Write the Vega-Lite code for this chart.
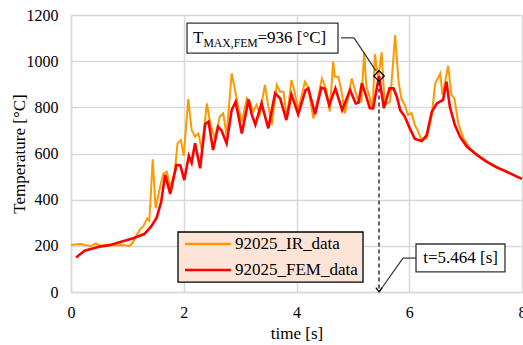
{
  "$schema": "https://vega.github.io/schema/vega-lite/v6.json",
  "width": 451,
  "height": 277,
  "autosize": {"type": "none"},
  "padding": {"left": 71, "top": 15, "right": 1, "bottom": 53},
  "background": "white",
  "config": {"font": "Liberation Serif", "view": {"stroke": null}, "axis": {"labelFont": "Liberation Serif", "titleFont": "Liberation Serif"}},
  "datasets": {
    "ir": [
      {"t":0,"v":204},{"t":0.1,"v":207},{"t":0.18,"v":208},{"t":0.25,"v":203},{"t":0.35,"v":199},{"t":0.44,"v":211},{"t":0.53,"v":200},{"t":0.62,"v":205},{"t":0.71,"v":204},{"t":0.8,"v":202},{"t":0.89,"v":204},{"t":0.96,"v":203},{"t":1.03,"v":199},{"t":1.09,"v":211},{"t":1.18,"v":254},{"t":1.24,"v":276},{"t":1.28,"v":283},{"t":1.35,"v":319},{"t":1.39,"v":309},{"t":1.45,"v":575},{"t":1.5,"v":363},{"t":1.58,"v":456},{"t":1.64,"v":514},{"t":1.7,"v":521},{"t":1.76,"v":456},{"t":1.84,"v":521},{"t":1.89,"v":645},{"t":1.95,"v":658},{"t":2.0,"v":590},{"t":2.08,"v":836},{"t":2.14,"v":702},{"t":2.2,"v":673},{"t":2.26,"v":687},{"t":2.32,"v":615},{"t":2.41,"v":817},{"t":2.47,"v":731},{"t":2.55,"v":666},{"t":2.64,"v":760},{"t":2.7,"v":774},{"t":2.76,"v":680},{"t":2.85,"v":947},{"t":2.91,"v":875},{"t":2.97,"v":796},{"t":3.03,"v":738},{"t":3.12,"v":839},{"t":3.17,"v":824},{"t":3.23,"v":781},{"t":3.29,"v":810},{"t":3.35,"v":774},{"t":3.44,"v":897},{"t":3.5,"v":803},{"t":3.56,"v":723},{"t":3.65,"v":897},{"t":3.71,"v":868},{"t":3.77,"v":868},{"t":3.83,"v":752},{"t":3.91,"v":918},{"t":3.96,"v":875},{"t":4.03,"v":788},{"t":4.15,"v":911},{"t":4.2,"v":890},{"t":4.3,"v":752},{"t":4.38,"v":840},{"t":4.45,"v":925},{"t":4.53,"v":875},{"t":4.59,"v":781},{"t":4.65,"v":998},{"t":4.68,"v":933},{"t":4.74,"v":933},{"t":4.8,"v":868},{"t":4.86,"v":774},{"t":4.98,"v":925},{"t":5.02,"v":889},{"t":5.1,"v":824},{"t":5.15,"v":824},{"t":5.2,"v":1038},{"t":5.24,"v":889},{"t":5.29,"v":853},{"t":5.35,"v":788},{"t":5.39,"v":1030},{"t":5.45,"v":925},{"t":5.51,"v":1038},{"t":5.54,"v":911},{"t":5.57,"v":810},{"t":5.66,"v":824},{"t":5.75,"v":1113},{"t":5.81,"v":911},{"t":5.86,"v":839},{"t":5.92,"v":810},{"t":5.98,"v":767},{"t":6.04,"v":775},{"t":6.1,"v":723},{"t":6.16,"v":694},{"t":6.22,"v":658},{"t":6.31,"v":666},{"t":6.4,"v":767},{"t":6.46,"v":904},{"t":6.55,"v":947},{"t":6.59,"v":853},{"t":6.69,"v":980},{"t":6.75,"v":853},{"t":6.8,"v":840},{"t":6.87,"v":731},{"t":6.96,"v":666},{"t":7.08,"v":622},{"t":7.25,"v":586},{"t":7.43,"v":557},{"t":7.61,"v":535},{"t":7.79,"v":514},{"t":8.0,"v":490}
    ],
    "fem": [
      {"t":0.09,"v":149},{"t":0.24,"v":179},{"t":0.35,"v":186},{"t":0.5,"v":196},{"t":0.68,"v":203},{"t":0.89,"v":218},{"t":1.09,"v":232},{"t":1.3,"v":251},{"t":1.42,"v":283},{"t":1.52,"v":322},{"t":1.6,"v":391},{"t":1.67,"v":508},{"t":1.76,"v":425},{"t":1.87,"v":550},{"t":1.94,"v":548},{"t":2.01,"v":485},{"t":2.09,"v":590},{"t":2.14,"v":560},{"t":2.2,"v":644},{"t":2.29,"v":536},{"t":2.38,"v":727},{"t":2.44,"v":738},{"t":2.52,"v":615},{"t":2.61,"v":716},{"t":2.67,"v":700},{"t":2.76,"v":644},{"t":2.85,"v":788},{"t":2.92,"v":824},{"t":3.03,"v":687},{"t":3.15,"v":834},{"t":3.2,"v":774},{"t":3.27,"v":725},{"t":3.38,"v":817},{"t":3.5,"v":709},{"t":3.62,"v":861},{"t":3.71,"v":839},{"t":3.82,"v":745},{"t":3.91,"v":856},{"t":4.03,"v":770},{"t":4.16,"v":875},{"t":4.21,"v":882},{"t":4.33,"v":770},{"t":4.44,"v":885},{"t":4.5,"v":880},{"t":4.58,"v":810},{"t":4.69,"v":882},{"t":4.81,"v":788},{"t":4.95,"v":875},{"t":5.05,"v":817},{"t":5.1,"v":820},{"t":5.16,"v":904},{"t":5.23,"v":853},{"t":5.3,"v":796},{"t":5.36,"v":796},{"t":5.464,"v":936},{"t":5.55,"v":796},{"t":5.65,"v":882},{"t":5.72,"v":882},{"t":5.78,"v":846},{"t":5.84,"v":788},{"t":5.92,"v":760},{"t":6.01,"v":709},{"t":6.1,"v":663},{"t":6.22,"v":654},{"t":6.31,"v":680},{"t":6.4,"v":781},{"t":6.49,"v":817},{"t":6.6,"v":832},{"t":6.66,"v":911},{"t":6.72,"v":803},{"t":6.81,"v":723},{"t":6.9,"v":673},{"t":7.02,"v":630},{"t":7.2,"v":594},{"t":7.37,"v":565},{"t":7.55,"v":540},{"t":7.73,"v":521},{"t":7.91,"v":500},{"t":8.0,"v":490}
    ]
  },
  "layer": [
    {
      "data": {"values": [{}]},
      "mark": {"type": "rect", "fill": "#FCE4D6", "stroke": "black", "strokeWidth": 1.3},
      "encoding": {
        "x": {"datum": 1.898, "type": "quantitative"},
        "x2": {"datum": 5.18},
        "y": {"datum": 260, "type": "quantitative"},
        "y2": {"datum": 43}
      }
    },
    {
      "data": {"name": "ir"},
      "mark": {"type": "line", "strokeWidth": 2, "interpolate": "linear"},
      "encoding": {
        "x": {"field": "t", "type": "quantitative",
          "scale": {"domain": [0, 8], "nice": false, "zero": false},
          "axis": {"values": [0, 2, 4, 6, 8], "format": "d", "title": "time [s]", "grid": true, "gridColor": "#d9d9d9", "gridWidth": 1.5,
            "domainColor": "#d9d9d9", "domainWidth": 1.5, "ticks": false, "labelFontSize": 16, "labelColor": "black",
            "labelPadding": 12, "labelFlush": false, "labelFont": "Liberation Serif",
            "titleFont": "Liberation Serif", "titleFontSize": 17, "titleFontWeight": "normal", "titleColor": "black",
            "titleY": 41, "titleBaseline": "middle"}},
        "y": {"field": "v", "type": "quantitative",
          "scale": {"domain": [0, 1200], "nice": false},
          "axis": {"values": [0, 200, 400, 600, 800, 1000, 1200], "format": "d", "title": "Temperature [°C]", "grid": true, "gridColor": "#d9d9d9", "gridWidth": 1.5,
            "domainColor": "#d9d9d9", "domainWidth": 1.5, "ticks": false, "labelFontSize": 16, "labelColor": "black",
            "labelPadding": 13, "labelFont": "Liberation Serif",
            "titleFont": "Liberation Serif", "titleFontSize": 17, "titleFontWeight": "normal", "titleColor": "black",
            "titleX": -52, "titleY": 138.5, "titleBaseline": "middle", "titleAlign": "center"}},
        "color": {"datum": "92025_IR_data", "type": "nominal",
          "scale": {"domain": ["92025_IR_data", "92025_FEM_data"], "range": ["#FF9900", "#FF0000"]},
          "legend": {"orient": "none", "legendX": 112.5, "legendY": 220.5, "title": null, "padding": 0,
            "symbolType": "stroke", "symbolSize": 2116, "symbolStrokeWidth": 2.5, "clipHeight": 17, "rowPadding": 8,
            "labelFontSize": 17, "labelOffset": 2.5, "labelFont": "Liberation Serif", "labelColor": "black", "labelLimit": 300}}
      }
    },
    {
      "data": {"name": "fem"},
      "mark": {"type": "line", "strokeWidth": 2.6},
      "encoding": {
        "x": {"field": "t", "type": "quantitative"},
        "y": {"field": "v", "type": "quantitative"},
        "color": {"datum": "92025_FEM_data", "type": "nominal"}
      }
    },
    {
      "data": {"values": [{}]},
      "mark": {"type": "rule", "stroke": "#333333", "strokeWidth": 1.5, "strokeDash": [4, 3]},
      "encoding": {
        "x": {"datum": 5.464, "type": "quantitative"},
        "y": {"datum": 912, "type": "quantitative"},
        "y2": {"datum": 0}
      }
    },
    {
      "data": {"values": [{}]},
      "mark": {"type": "rule", "stroke": "#333333", "strokeWidth": 1.2},
      "encoding": {
        "x": {"datum": 4.79, "type": "quantitative"},
        "x2": {"datum": 5.02},
        "y": {"datum": 1101, "type": "quantitative"},
        "y2": {"datum": 1101}
      }
    },
    {
      "data": {"values": [{}]},
      "mark": {"type": "rule", "stroke": "#333333", "strokeWidth": 1.2},
      "encoding": {
        "x": {"datum": 5.02, "type": "quantitative"},
        "x2": {"datum": 5.41},
        "y": {"datum": 1101, "type": "quantitative"},
        "y2": {"datum": 958}
      }
    },
    {
      "data": {"values": [{}]},
      "mark": {"type": "rule", "stroke": "#333333", "strokeWidth": 1.2},
      "encoding": {
        "x": {"datum": 6.12, "type": "quantitative"},
        "x2": {"datum": 5.889},
        "y": {"datum": 147, "type": "quantitative"},
        "y2": {"datum": 147}
      }
    },
    {
      "data": {"values": [{}]},
      "mark": {"type": "rule", "stroke": "#333333", "strokeWidth": 1.2},
      "encoding": {
        "x": {"datum": 5.889, "type": "quantitative"},
        "x2": {"datum": 5.464},
        "y": {"datum": 147, "type": "quantitative"},
        "y2": {"datum": 0}
      }
    },
    {
      "data": {"values": [{}]},
      "mark": {"type": "point", "shape": "diamond", "size": 110, "filled": false, "stroke": "black", "strokeWidth": 1.3, "opacity": 1},
      "encoding": {
        "x": {"datum": 5.464, "type": "quantitative"},
        "y": {"datum": 936, "type": "quantitative"}
      }
    },
    {
      "data": {"values": [{}]},
      "mark": {"type": "point", "shape": "M-1,-1.4L0,0L1,-1.4", "size": 40, "filled": false, "stroke": "black", "strokeWidth": 1.3, "opacity": 1},
      "encoding": {
        "x": {"datum": 5.464, "type": "quantitative"},
        "y": {"datum": 0, "type": "quantitative"}
      }
    },
    {
      "data": {"values": [{}]},
      "mark": {"type": "rect", "fill": "white", "stroke": "#333333", "strokeWidth": 1.3},
      "encoding": {
        "x": {"datum": 2.058, "type": "quantitative"},
        "x2": {"datum": 4.736},
        "y": {"datum": 1165, "type": "quantitative"},
        "y2": {"datum": 1035}
      }
    },
    {
      "data": {"values": [{}]},
      "mark": {"type": "rect", "fill": "white", "stroke": "#333333", "strokeWidth": 1.3},
      "encoding": {
        "x": {"datum": 6.12, "type": "quantitative"},
        "x2": {"datum": 7.698},
        "y": {"datum": 208, "type": "quantitative"},
        "y2": {"datum": 87}
      }
    },
    {
      "data": {"values": [{}]},
      "mark": {"type": "text", "text": "T", "font": "Liberation Serif", "fontSize": 17, "align": "left", "baseline": "alphabetic", "color": "black"},
      "encoding": {
        "x": {"datum": 2.164, "type": "quantitative"},
        "y": {"datum": 1077, "type": "quantitative"}
      }
    },
    {
      "data": {"values": [{}]},
      "mark": {"type": "text", "text": "MAX,FEM", "font": "Liberation Serif", "fontSize": 11.7, "align": "left", "baseline": "alphabetic", "color": "black"},
      "encoding": {
        "x": {"datum": 2.35, "type": "quantitative"},
        "y": {"datum": 1063, "type": "quantitative"}
      }
    },
    {
      "data": {"values": [{}]},
      "mark": {"type": "text", "text": "=936 [°C]", "font": "Liberation Serif", "fontSize": 17, "align": "left", "baseline": "alphabetic", "color": "black"},
      "encoding": {
        "x": {"datum": 3.308, "type": "quantitative"},
        "y": {"datum": 1077, "type": "quantitative"}
      }
    },
    {
      "data": {"values": [{}]},
      "mark": {"type": "text", "text": "t=5.464 [s]", "font": "Liberation Serif", "fontSize": 17, "align": "center", "baseline": "middle", "color": "black"},
      "encoding": {
        "x": {"datum": 6.91, "type": "quantitative"},
        "y": {"datum": 147, "type": "quantitative"}
      }
    }
  ]
}
